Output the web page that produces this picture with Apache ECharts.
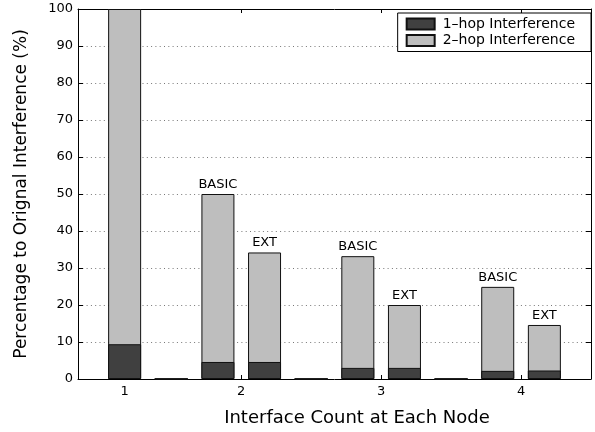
<!DOCTYPE html>
<html>
<head>
<meta charset="utf-8">
<script src="https://cdn.jsdelivr.net/npm/echarts@6/dist/echarts.min.js"></script>
<style>
  html, body { margin: 0; padding: 0; background: #fff; }
  #main { width: 595px; height: 432px; }
</style>
</head>
<body>
<div id="main"></div>
<script>
// Bar slots along the x axis: 1 interface, gap, then BASIC/EXT pairs for 2, 3 and 4 interfaces
const slots = [0, 1, 2, 3, 4, 5, 6, 7, 8, 9];
const variantLabels = ['', '', 'BASIC', 'EXT', '', 'BASIC', 'EXT', '', 'BASIC', 'EXT'];
// 1-hop share and total (1-hop + 2-hop) share of the original interference, in %
const oneHop = [9.4, 0, 4.6, 4.6, 0, 3.0, 3.0, 0, 2.2, 2.3];
const totalHop = [100, 0, 50, 34.2, 0, 33.2, 20.0, 0, 24.9, 14.6];

// Interface-count tick labels and where they sit among the slots
const tickPositions = [0, 2.5, 5.5, 8.5];
const tickLabels = ['1', '2', '3', '4'];

const seriesNames = ['1\u2013hop Interference', '2\u2013hop Interference'];
const FONT = 'DejaVu Sans';

const chart = echarts.init(document.getElementById('main'), null, { renderer: 'canvas' });

const frameLine = { show: true, onZero: false, lineStyle: { color: '#000', width: 1 } };
const tickStyle = { color: '#000', width: 1 };

chart.setOption({
  animation: false,
  backgroundColor: '#fff',
  textStyle: { fontFamily: FONT },
  grid: { left: 78, right: 4, top: 9, bottom: 52, containLabel: false },
  legend: {
    orient: 'vertical',
    right: 4,
    top: 13,
    data: seriesNames,
    icon: 'rect',
    itemWidth: 28,
    itemHeight: 11,
    itemGap: 0.5,
    padding: [3, 16, 3, 8],
    borderColor: '#000',
    borderWidth: 1,
    borderRadius: 0,
    backgroundColor: '#fff',
    textStyle: { fontFamily: FONT, fontSize: 14, lineHeight: 16, color: '#000', padding: [0, 0, 0, 3] }
  },
  xAxis: [
    {
      type: 'value',
      min: -1,
      max: 10,
      position: 'bottom',
      axisLine: frameLine,
      axisTick: { show: true, inside: true, length: 4, customValues: tickPositions, lineStyle: tickStyle },
      axisLabel: {
        show: true,
        customValues: tickPositions,
        formatter: v => tickLabels[tickPositions.indexOf(v)] || '',
        fontFamily: FONT,
        fontSize: 13,
        color: '#000',
        margin: 6
      },
      splitLine: { show: false },
      name: 'Interface Count at Each Node',
      nameLocation: 'middle',
      nameGap: 30,
      nameTextStyle: { fontFamily: FONT, fontSize: 18, color: '#000', padding: [0, 0, 0, 45] }
    },
    {
      type: 'value',
      min: -1,
      max: 10,
      position: 'top',
      axisLine: frameLine,
      axisTick: { show: true, inside: true, length: 4, customValues: tickPositions, lineStyle: tickStyle },
      axisLabel: { show: false },
      splitLine: { show: false }
    }
  ],
  yAxis: [
    {
      type: 'value',
      min: 0,
      max: 100,
      interval: 10,
      position: 'left',
      axisLine: frameLine,
      axisTick: { show: true, inside: true, length: 5, lineStyle: tickStyle },
      axisLabel: { fontFamily: FONT, fontSize: 13, color: '#000', margin: 5 },
      splitLine: { show: true, lineStyle: { color: '#777', width: 1, type: [1, 3.3] } },
      name: 'Percentage to Orignal Interference (%)',
      nameLocation: 'middle',
      nameGap: 48,
      nameTextStyle: { fontFamily: FONT, fontSize: 17, color: '#000' }
    },
    {
      type: 'value',
      min: 0,
      max: 100,
      interval: 10,
      position: 'right',
      axisLine: frameLine,
      axisTick: { show: true, inside: true, length: 5, lineStyle: tickStyle },
      axisLabel: { show: false },
      splitLine: { show: false }
    }
  ],
  series: [
    {
      // full bar height = 1-hop + 2-hop; the 1-hop part is painted over its base
      name: seriesNames[1],
      type: 'bar',
      xAxisIndex: 0,
      yAxisIndex: 0,
      barWidth: 33,
      barGap: '-100%',
      z: 2,
      itemStyle: { color: '#bebebe', borderColor: '#111', borderWidth: 1 },
      label: {
        show: true,
        position: 'top',
        distance: 3,
        formatter: p => variantLabels[p.dataIndex],
        fontFamily: FONT,
        fontSize: 13,
        color: '#000'
      },
      data: slots.map((s, i) => [s, totalHop[i]])
    },
    {
      name: seriesNames[0],
      type: 'bar',
      xAxisIndex: 0,
      yAxisIndex: 0,
      barWidth: 33,
      barGap: '-100%',
      z: 3,
      itemStyle: { color: '#404040', borderColor: '#111', borderWidth: 1 },
      data: slots.map((s, i) => [s, oneHop[i]])
    }
  ]
});
</script>
</body>
</html>
